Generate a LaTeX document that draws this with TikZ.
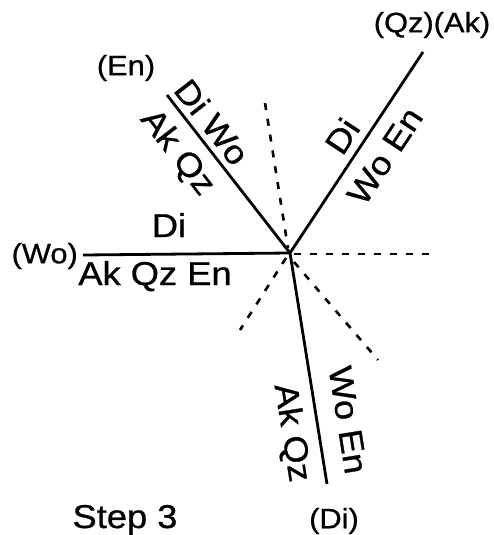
\documentclass[tikz,border=0pt]{standalone}
\usepackage{fontspec}
\setmainfont{Liberation Sans}[FakeStretch=1.1, FakeBold=0.8]
\begin{document}
\begin{tikzpicture}[x=1pt,y=-1pt,
  rxn/.style={line width=2.8pt},
  meta/.style={line width=2.6pt, dash pattern=on 7pt off 9pt},
  phase/.style={inner sep=0pt, font=\fontsize{33}{38}\selectfont},
  absent/.style={inner sep=0pt, font=\fontsize{28}{32}\selectfont}]
\useasboundingbox (0,0) rectangle (494,535);

% invariant point and reaction line ends
\coordinate (ip) at (290,253);
\coordinate (endW) at (83,255);
\coordinate (endNW) at (167,95);
\coordinate (endNE) at (423,52);
\coordinate (endS) at (327,484);

% metastable extensions
\coordinate (mN1) at (265,103);
\coordinate (mN2) at (288,248);
\coordinate (mE1) at (294,254);
\coordinate (mE2) at (430,254);
\coordinate (mSW1) at (286,258);
\coordinate (mSW2) at (240,330);
\coordinate (mSE1) at (294,262);
\coordinate (mSE2) at (378,360);

\draw[rxn] (endW) -- (ip);
\draw[rxn] (endNW) -- (ip);
\draw[rxn] (endNE) -- (ip);
\draw[rxn] (endS) -- (ip);

\draw[meta] (mN1) -- (mN2);
\draw[meta] (mE1) -- (mE2);
\draw[meta] (mSW1) -- (mSW2);
\draw[meta] (mSE1) -- (mSE2);

% absent phases
\node[absent, anchor=east] (absW) at (78,256) {(Wo)};
\node[absent] (absNW) at (126,68) {(En)};
\node[absent] (absNE) at (432,25) {(Qz)(Ak)};
\node[absent] (absS) at (334,521) {(Di)};

% assemblages
\node[phase, anchor=base] (wUp) at (169,237) {Di};
\node[phase, anchor=base] (wLow) at (155,285) {Ak Qz En};
\node[phase, rotate=-52] (nwUp) at (212,122) {Di Wo};
\node[phase, rotate=-52] (nwLow) at (177,153) {Ak Qz};
\node[phase, rotate=56.5] (neUp) at (342,136) {Di};
\node[phase, rotate=56.5] (neLow) at (385,156) {Wo En};
\node[phase, rotate=-81] (sUp) at (348,420) {Wo En};
\node[phase, rotate=-81] (sLow) at (291,433) {Ak Qz};

\node[phase, anchor=base] (step) at (125,528) {Step 3};
\end{tikzpicture}
\end{document}
